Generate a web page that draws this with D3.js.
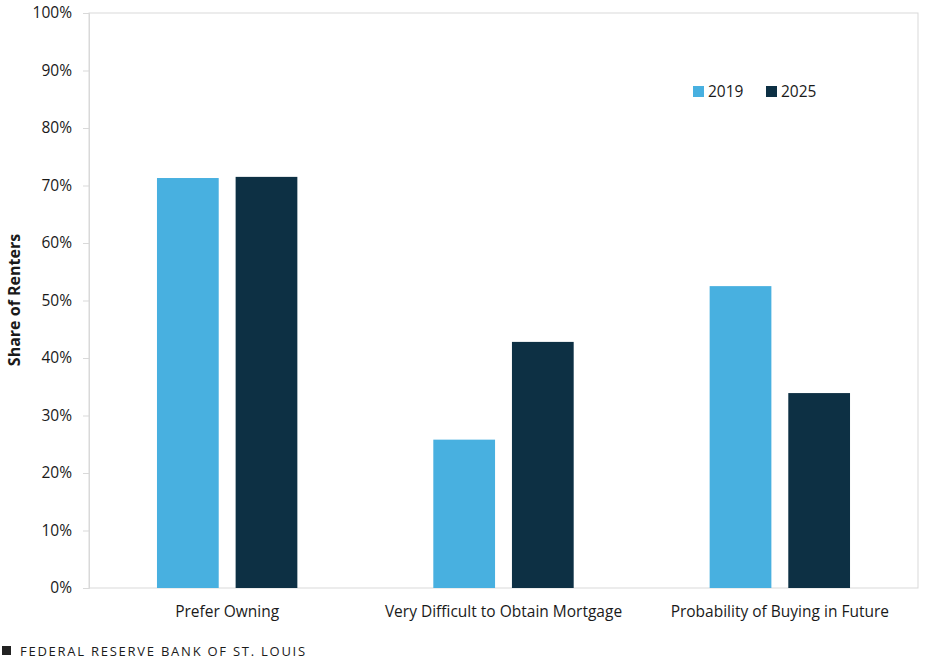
<!DOCTYPE html>
<html>
<head>
<meta charset="utf-8">
<script src="https://cdn.jsdelivr.net/npm/d3@7"></script>
<style>
  body { margin: 0; background: #fff; }
  text { font-family: "Open Sans", "Noto Sans", sans-serif; fill: #1a1a1a; }
</style>
</head>
<body>
<svg id="chart" width="945" height="660"></svg>
<script>
const categories = ['Prefer Owning', 'Very Difficult to Obtain Mortgage', 'Probability of Buying in Future'];
const seriesNames = ['2019', '2025'];
const values2019 = [71.3, 25.8, 52.5];
const values2025 = [71.5, 42.8, 33.9];
const yTicks = [0, 10, 20, 30, 40, 50, 60, 70, 80, 90, 100];

const colors = { '2019': '#48b0e0', '2025': '#0d3044' };

const svg = d3.select('#chart');
const plotLeft = 89, plotRight = 918, plotTop = 13, plotBottom = 588;

const x0 = d3.scaleBand().domain(categories).range([plotLeft, plotRight]).padding(0);
// grouped bars sit in the middle of each category
const bw = x0.bandwidth();
const x1 = d3.scaleBand().domain(seriesNames).range([bw * 0.246, bw * 0.754]).paddingInner(0.215);
const y = d3.scaleLinear().domain([0, 100]).range([plotBottom, plotTop]);

// plot frame
svg.append('rect')
    .attr('x', plotLeft).attr('y', plotTop)
    .attr('width', plotRight - plotLeft).attr('height', plotBottom - plotTop)
    .attr('fill', 'none').attr('stroke', '#d9d9d9').attr('stroke-width', 1);

const yAxis = svg.append('g')
    .attr('transform', `translate(${plotLeft},0)`)
    .call(d3.axisLeft(y).tickValues(yTicks).tickSize(6).tickPadding(11).tickFormat(d => d + '%'));
yAxis.select('.domain').attr('stroke', '#d9d9d9');
yAxis.selectAll('.tick line').attr('stroke', '#d9d9d9');
yAxis.selectAll('.tick text')
    .style('font-size', '15.5px')
    .attr('fill', '#1a1a1a');

const data = categories.map((c, i) => ({ cat: c, vals: [values2019[i], values2025[i]] }));

const groups = svg.selectAll('g.cat')
    .data(data)
    .enter()
    .append('g')
    .attr('class', 'cat')
    .attr('transform', d => `translate(${x0(d.cat)},0)`);

groups.selectAll('rect')
    .data(d => d.vals.map((v, j) => ({ key: seriesNames[j], v: v })))
    .enter()
    .append('rect')
    .attr('x', d => x1(d.key))
    .attr('y', d => y(d.v))
    .attr('width', x1.bandwidth())
    .attr('height', d => y(0) - y(d.v))
    .attr('fill', d => colors[d.key]);

// category labels
svg.selectAll('text.cat-label')
    .data(categories)
    .enter()
    .append('text')
    .attr('class', 'cat-label')
    .attr('x', d => x0(d) + bw / 2)
    .attr('y', 617)
    .attr('text-anchor', 'middle')
    .style('font-size', '15.5px')
    .text(d => d);

// y title
svg.append('text')
    .attr('transform', 'translate(20,300) rotate(-90)')
    .attr('text-anchor', 'middle')
    .style('font-size', '16px')
    .style('font-weight', 'bold')
    .text('Share of Renters');

// legend
const legend = svg.selectAll('g.legend')
    .data(seriesNames)
    .enter()
    .append('g')
    .attr('class', 'legend')
    .attr('transform', (d, i) => `translate(${693 + i * 73},86)`);
legend.append('rect')
    .attr('width', 11).attr('height', 11)
    .attr('fill', d => colors[d]);
legend.append('text')
    .attr('x', 15).attr('y', 10.5)
    .style('font-size', '15.5px')
    .text(d => d);

// footer
svg.append('rect')
    .attr('x', 2).attr('y', 646).attr('width', 9).attr('height', 9)
    .attr('fill', '#222');
svg.append('text')
    .attr('x', 20).attr('y', 655.5)
    .style('font-size', '13px')
    .style('font-weight', '500')
    .style('letter-spacing', '1.75px')
    .attr('fill', '#222')
    .text('FEDERAL RESERVE BANK OF ST. LOUIS');
</script>
</body>
</html>
